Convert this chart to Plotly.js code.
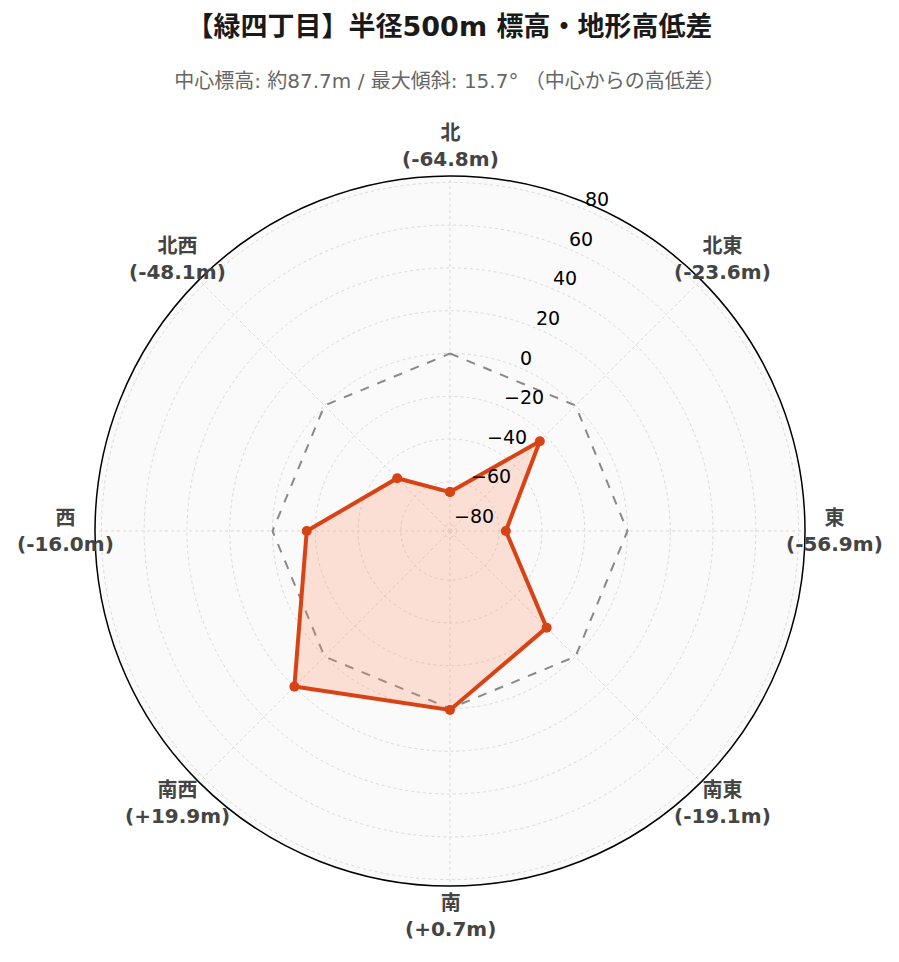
<!DOCTYPE html>
<html>
<head>
<meta charset="utf-8">
<script src="https://cdn.plot.ly/plotly-3.0.1.min.js"></script>
<style>html,body{margin:0;padding:0;background:#fff;}</style>
</head>
<body>
<div id="chart" style="width:899px;height:962px;"></div>
<script>
// ---- data ----
const directions = ["北", "北東", "東", "南東", "南", "南西", "西", "北西"];
const elevationDiff = [-64.8, -23.6, -56.9, -19.1, 0.7, 19.9, -16.0, -48.1];
const referenceLevel = [0, 0, 0, 0, 0, 0, 0, 0];
const radialTicks = [-80, -60, -40, -20, 0, 20, 40, 60, 80];
const titleText = "【緑四丁目】半径500m 標高・地形高低差";
const subtitleText = "中心標高: 約87.7m / 最大傾斜: 15.7° （中心からの高低差）";

// ---- layout constants ----
const R_MIN = -83, R_MAX = 83;
const RADIAL_ANGLE = 67.5;
const LABEL_FRAC = 0.542;   // direction-label distance from centre (fraction of plot area)
const FONT = "DejaVu Sans, Noto Sans CJK JP, sans-serif";

const closeLoop = a => a.concat([a[0]]);
const fmt = v => (v >= 0 ? "+" : "") + v.toFixed(1);
const tickText = v => (v < 0 ? "\u2212" + Math.abs(v) : String(v));

const traces = [
  {
    type: "scatterpolar",
    r: closeLoop(referenceLevel),
    theta: closeLoop(directions),
    mode: "lines",
    line: {color: "#888888", width: 2, dash: "dash"},
    hoverinfo: "skip",
    showlegend: false
  },
  {
    type: "scatterpolar",
    r: closeLoop(elevationDiff),
    theta: closeLoop(directions),
    mode: "lines+markers",
    fill: "toself",
    fillcolor: "rgba(255,138,101,0.25)",
    line: {color: "#d84315", width: 4},
    marker: {color: "#d84315", size: 10},
    showlegend: false
  }
];

// direction labels placed around the circle (clockwise from north)
const dirAnnotations = directions.map((d, i) => {
  const a = (90 - i * 360 / directions.length) * Math.PI / 180;
  return {
    xref: "paper", yref: "paper",
    x: 0.5 + LABEL_FRAC * Math.cos(a),
    y: 0.5 + LABEL_FRAC * Math.sin(a),
    xanchor: "center", yanchor: "middle",
    showarrow: false,
    align: "center",
    text: "<b>" + d + "</b><br><b>(" + fmt(elevationDiff[i]) + "m)</b>",
    font: {family: FONT, size: 20, color: "#444444"}
  };
});

// radial tick labels along the radial axis direction (horizontal text)
const ra = RADIAL_ANGLE * Math.PI / 180;
const tickAnnotations = radialTicks.map(v => {
  const f = 0.5 * (v - R_MIN) / (R_MAX - R_MIN);
  return {
    xref: "paper", yref: "paper",
    x: 0.5 + f * Math.cos(ra),
    y: 0.5 + f * Math.sin(ra),
    xanchor: "left", yanchor: "middle",
    xshift: 0, yshift: 9.5,
    showarrow: false,
    text: tickText(v),
    font: {family: FONT, size: 19, color: "#000000"}
  };
});

const layout = {
  width: 899,
  height: 962,
  paper_bgcolor: "#ffffff",
  margin: {l: 95, r: 94, t: 176, b: 76},
  font: {family: FONT, color: "#000"},
  title: {
    text: "<b>" + titleText + "</b>",
    x: 0.5,
    xanchor: "center",
    y: 0.982,
    yanchor: "top",
    font: {family: FONT, size: 27, color: "#1a1a1a"},
    subtitle: {
      text: subtitleText,
      font: {family: FONT, size: 20, color: "#666666"}
    }
  },
  annotations: dirAnnotations.concat(tickAnnotations),
  polar: {
    bgcolor: "#fafafa",
    domain: {x: [0, 1], y: [0, 1]},
    radialaxis: {
      range: [R_MIN, R_MAX],
      tickvals: radialTicks,
      angle: RADIAL_ANGLE,
      showticklabels: false,
      showline: false,
      ticks: "",
      gridcolor: "#d9d9d9",
      griddash: "dot",
      gridwidth: 1
    },
    angularaxis: {
      type: "category",
      categoryarray: directions,
      direction: "clockwise",
      rotation: 90,
      showline: true,
      linecolor: "#000000",
      linewidth: 1.5,
      showticklabels: false,
      ticks: "",
      gridcolor: "#d9d9d9",
      griddash: "dot",
      gridwidth: 1
    }
  }
};

Plotly.newPlot("chart", traces, layout, {displayModeBar: false, staticPlot: true});
</script>
</body>
</html>
